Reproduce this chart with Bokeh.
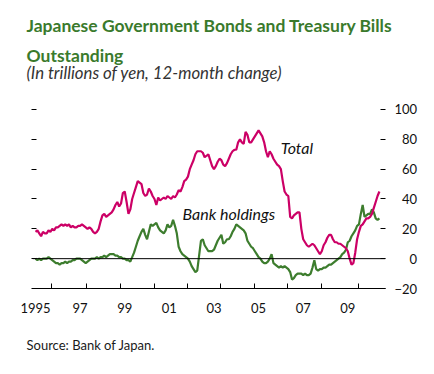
import numpy as np
from bokeh.plotting import figure
from bokeh.models import Range1d, Span, Label, FixedTicker, LinearAxis, Title
from bokeh.embed import file_html
from bokeh.resources import INLINE

total = [
    18, 19, 17, 15, 18, 17, 17, 19, 18, 20, 19, 21,
    21, 22, 23, 22, 23, 22, 23, 21, 22, 21, 21, 22,
    22, 23, 22, 21, 20, 21, 20, 18, 17, 18, 20, 25,
    29, 30, 28, 29, 30, 31, 33, 36, 38, 35, 37, 44,
    45, 38, 30, 33, 40, 44, 48, 52, 51, 50, 44, 42,
    43, 47, 45, 42, 40, 36, 41, 39, 40, 41, 40, 42,
    41, 40, 42, 41, 43, 46, 45, 48, 52, 53, 55, 60,
    63, 66, 70, 72, 72, 72, 71, 68, 69, 70, 66, 62,
    60, 62, 65, 67, 66, 63, 62, 64, 67, 70, 72, 73,
    73, 78, 80, 78, 77, 85, 83, 78, 78, 80, 82, 84,
    86, 84, 82, 78, 72, 68, 72, 70, 67, 65, 63, 62,
    60, 52, 45, 43, 42, 28, 27, 29, 30, 31, 31, 20,
    13, 11, 9, 8, 9, 10, 9, 7, 5, 3, 5, 9,
    11, 14, 16, 16, 13, 11, 11, 10, 10, 9, 8, 7,
    5, 0, -4, -3, 4, 13, 18, 22, 23, 25, 27, 27,
    28, 30, 34, 38, 42, 45,
]

bank = [
    0, -1, 0, -1, 0, 0, 0, 1, 0, -1, -2, -3,
    -3, -4, -3, -3, -2, -3, -2, -2, -1, -1, 0, 0,
    0, -1, -2, -3, -2, -1, 0, 0, 0, 1, 0, 1,
    1, 2, 1, 2, 3, 3, 3, 2, 2, 1, 1, 0,
    0, -1, -1, -2, 1, 4, 8, 12, 15, 18, 20, 16,
    13, 18, 23, 22, 23, 24, 21, 19, 18, 17, 19, 23,
    21, 22, 26, 22, 17, 8, 5, 3, 2, 1, 0, -2,
    -5, -7, -9, -8, 2, 12, 13, 9, 7, 5, 5, 5,
    6, 9, 12, 14, 16, 10, 11, 13, 13, 15, 18, 20,
    23, 22, 21, 20, 19, 17, 12, 10, 8, 7, 5, 3,
    1, 0, -2, -3, -3, -2, 0, 3, -3, -4, -5, -6,
    -5, -6, -5, -6, -7, -9, -14, -13, -11, -10, -10, -10,
    -11, -10, -11, -11, -10, -6, -1, -7, -8, -7, -7, -6,
    -6, -5, -4, -4, -3, -2, -1, 0, 1, 3, 4, 6,
    11, 12, 15, 17, 19, 22, 23, 30, 36, 28, 29, 30,
    30, 33, 31, 27, 26, 27,
]

months = 1995 + np.arange(len(total)) / 12.0

x_label_years = [1995, 1997, 1999, 2001, 2003, 2005, 2007, 2009]
x_labels = ["1995", "97", "99", "01", "03", "05", "07", "09"]
x_tick_years = [1995.7, 1997.3, 1998.8, 2000.35, 2001.8, 2003.3, 2004.8, 2006.3, 2007.8, 2009.5]
y_ticks = [-20, 0, 20, 40, 60, 80, 100]
FS = "\u2007"
y_labels = ["\u221220", FS + FS + "0", FS + "20", FS + "40", FS + "60", FS + "80", "100"]

PINK = "#CC0066"
GREEN = "#3D7D2E"
TITLE_GREEN = "#3A7A2C"
TICKFONT = "Lato"

p = figure(width=434, height=374, output_backend="svg", toolbar_location=None,
           x_range=Range1d(1994.865, 2010.69), y_range=Range1d(-20, 117.43),
           min_border_left=32, min_border_right=49, min_border_top=83,
           min_border_bottom=86)
p.outline_line_color = None
p.grid.visible = False
p.background_fill_color = "white"
p.border_fill_color = "white"

# x axis
xa = p.xaxis[0]
xa.ticker = FixedTicker(ticks=x_label_years, minor_ticks=x_tick_years)
xa.major_label_overrides = {float(k): v for k, v in zip(x_label_years, x_labels)}
xa.major_tick_in = 0
xa.major_tick_out = 0
xa.minor_tick_in = 5
xa.minor_tick_out = 0
xa.minor_tick_line_color = "black"
xa.axis_line_color = "black"
xa.axis_line_width = 1
xa.major_label_standoff = 14
xa.major_label_text_font = TICKFONT
xa.major_label_text_font_size = "13px"
xa.major_label_text_color = "#111111"

# left y axis: ticks only
ya = p.yaxis[0]
ya.ticker = FixedTicker(ticks=y_ticks, minor_ticks=[])
ya.axis_line_color = None
ya.major_tick_in = 4
ya.major_tick_out = 1
ya.major_tick_line_color = "black"
ya.minor_tick_line_color = None
ya.major_label_overrides = {float(k): "" for k in y_ticks}
ya.major_label_standoff = 0

# right y axis with labels
ra = LinearAxis(ticker=FixedTicker(ticks=y_ticks, minor_ticks=[]))
ra.axis_line_color = None
ra.major_tick_in = 5
ra.major_tick_out = 0
ra.major_tick_line_color = "black"
ra.minor_tick_line_color = None
ra.major_label_overrides = {float(k): v for k, v in zip(y_ticks, y_labels)}
ra.major_label_standoff = 9
ra.major_label_text_font = TICKFONT
ra.major_label_text_font_size = "13px"
ra.major_label_text_color = "#111111"
p.add_layout(ra, "right")

p.add_layout(Span(location=0, dimension="width", line_color="black", line_width=1))

p.line(months, bank, line_color=GREEN, line_width=2.2)
p.line(months, total, line_color=PINK, line_width=2.2)

p.add_layout(Label(x=2005.99, y=74.4, text="Total", text_baseline="middle",
                   text_font="Lato", text_font_style="italic", text_font_size="16px",
                   text_color="#111111"))
p.add_layout(Label(x=2001.59, y=30.2, text="Bank holdings", text_baseline="middle",
                   text_font="Lato", text_font_style="italic", text_font_size="16px",
                   text_color="#111111"))

# titles: first added sits closest to the frame
p.add_layout(Title(text="(In trillions of yen, 12-month change)", align="left", offset=-6,
                   text_font="Lato", text_font_style="italic", text_font_size="16.8px",
                   text_color="#333333", standoff=1), "above")
p.add_layout(Title(text="Outstanding", align="left", offset=-6,
                   text_font="Lato", text_font_style="bold", text_font_size="17.5px",
                   text_color=TITLE_GREEN, standoff=-12), "above")
p.add_layout(Title(text="Japanese Government Bonds and Treasury Bills", align="left", offset=-6,
                   text_font="Lato", text_font_style="bold", text_font_size="17.5px",
                   text_color=TITLE_GREEN, standoff=25), "above")
p.add_layout(Title(text="Source: Bank of Japan.", align="left", offset=-6,
                   text_font="Lato", text_font_style="normal", text_font_size="13px",
                   text_color="#1a1a1a", standoff=38.5), "below")

open("out.html", "w").write(file_html(p, INLINE))
